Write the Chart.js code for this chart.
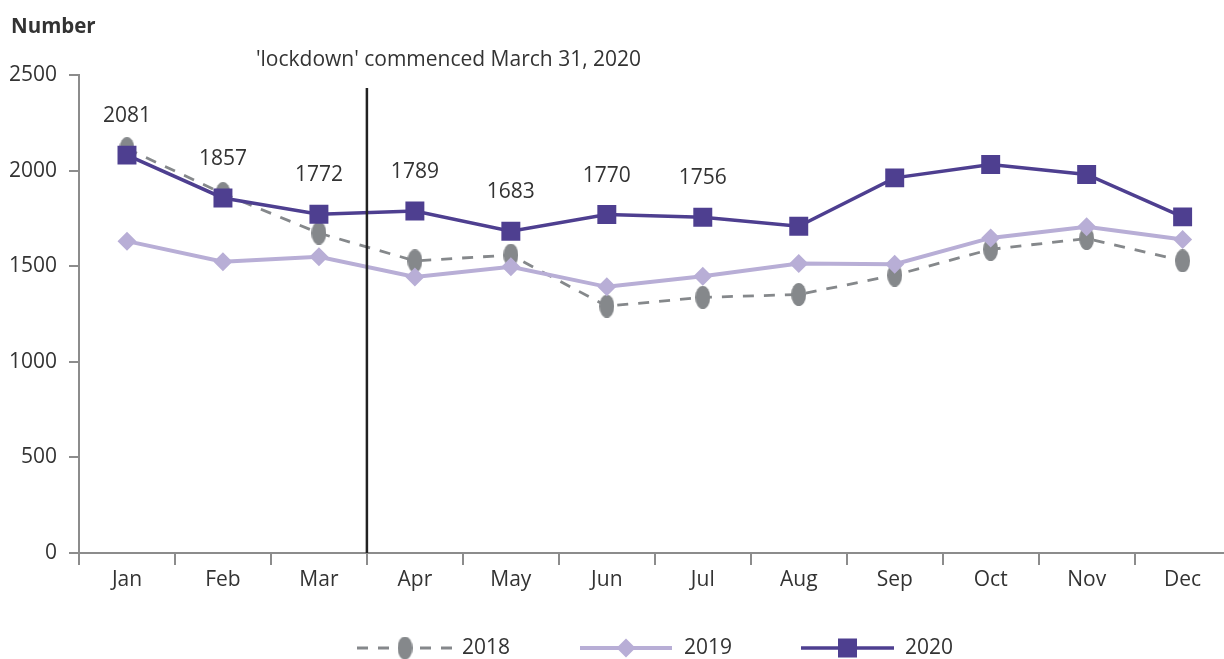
<!DOCTYPE html>
<html>
<head>
<meta charset="utf-8">
<script src="https://cdn.jsdelivr.net/npm/chart.js@4.4.1/dist/chart.umd.min.js"></script>
<style>
  html, body { margin: 0; padding: 0; background: #fff; overflow: hidden; }
  #wrap { position: relative; width: 1244px; height: 659px; }
</style>
</head>
<body>
<div id="wrap"><canvas id="c"></canvas></div>
<script>
const months = ['Jan','Feb','Mar','Apr','May','Jun','Jul','Aug','Sep','Oct','Nov','Dec'];
const values2018 = [2115, 1880, 1673, 1528, 1558, 1291, 1337, 1352, 1453, 1588, 1645, 1528];
const values2019 = [1631, 1523, 1549, 1444, 1497, 1392, 1448, 1514, 1510, 1648, 1706, 1640];
const values2020 = [2081, 1857, 1772, 1789, 1683, 1770, 1756, 1709, 1962, 2032, 1980, 1758];
const labelledMonths2020 = ['Jan','Feb','Mar','Apr','May','Jun','Jul'];
const yTicks = [0, 500, 1000, 1500, 2000, 2500];
const seriesNames = ['2018', '2019', '2020'];
const lockdownText = "'lockdown' commenced March 31, 2020";
const lockdownAfterMonth = 'Mar';
const yTitle = 'Number';

const FONT = "'Open Sans', 'Noto Sans', sans-serif";
const FS = 21;
const C2018 = '#85888b', C2019 = '#b8aed6', C2020 = '#4e3f90';
const AXIS = '#8c8c8c', TEXT = '#333333';

// ellipse marker for 2018
function ellipseMarker(w, h, color) {
  const cv = document.createElement('canvas');
  cv.width = w; cv.height = h;
  const g = cv.getContext('2d');
  g.fillStyle = color;
  g.beginPath();
  g.ellipse(w / 2, h / 2, w / 2, h / 2, 0, 0, Math.PI * 2);
  g.fill();
  return cv;
}
const ellipse = ellipseMarker(15, 23, C2018);

const overlay = {
  id: 'overlay',
  afterDatasetsDraw(chart) {
    const ctx = chart.ctx;
    const x = chart.scales.x, y = chart.scales.y;
    // lockdown line
    const i = months.indexOf(lockdownAfterMonth);
    const lx = (x.getPixelForValue(i) + x.getPixelForValue(i + 1)) / 2;
    ctx.save();
    ctx.strokeStyle = '#222222';
    ctx.lineWidth = 2.5;
    ctx.beginPath();
    ctx.moveTo(lx, 88);
    ctx.lineTo(lx, y.bottom);
    ctx.stroke();
    ctx.fillStyle = TEXT;
    ctx.font = FS + 'px ' + FONT;
    ctx.textAlign = 'left';
    ctx.textBaseline = 'middle';
    ctx.fillText(lockdownText, lx - 111, 60);
    // data labels for 2020
    const meta = chart.getDatasetMeta(2);
    ctx.textAlign = 'center';
    labelledMonths2020.forEach(m => {
      const k = months.indexOf(m);
      const p = meta.data[k];
      ctx.fillText(String(values2020[k]), p.x, p.y - 39);
    });
    // y title
    ctx.font = 'bold 20.5px ' + FONT;
    ctx.textAlign = 'left';
    ctx.fillText(yTitle, 11, 27);
    ctx.restore();
  },
  afterDraw(chart) {
    const ctx = chart.ctx;
    const ly = 648;
    const items = [
      { x0: 357, x1: 453, color: C2018, dash: [11, 10], lw: 2.8, marker: 'ellipse', tx: 462 },
      { x0: 580, x1: 672, color: C2019, dash: [], lw: 4, marker: 'diamond', tx: 684 },
      { x0: 801, x1: 894, color: C2020, dash: [], lw: 3.5, marker: 'square', tx: 905 }
    ];
    ctx.save();
    items.forEach((it, idx) => {
      ctx.strokeStyle = it.color;
      ctx.lineWidth = it.lw;
      ctx.setLineDash(it.dash);
      ctx.beginPath();
      ctx.moveTo(it.x0, ly);
      ctx.lineTo(it.x1, ly);
      ctx.stroke();
      ctx.setLineDash([]);
      const mx = (it.x0 + it.x1) / 2;
      ctx.fillStyle = it.color;
      if (it.marker === 'ellipse') {
        ctx.fillStyle = '#fff';
        ctx.fillRect(mx - 12, ly - 4, 24, 8);
        ctx.drawImage(ellipse, mx - 7.5, ly - 11.5);
      } else if (it.marker === 'diamond') {
        ctx.beginPath();
        ctx.moveTo(mx - 9.5, ly); ctx.lineTo(mx, ly - 9.5); ctx.lineTo(mx + 9.5, ly); ctx.lineTo(mx, ly + 9.5);
        ctx.closePath(); ctx.fill();
      } else {
        ctx.fillRect(mx - 9.5, ly - 9.5, 19, 19);
      }
      ctx.fillStyle = TEXT;
      ctx.font = FS + 'px ' + FONT;
      ctx.textAlign = 'left';
      ctx.textBaseline = 'middle';
      ctx.fillText(seriesNames[idx], it.tx, ly);
    });
    ctx.restore();
  }
};

new Chart(document.getElementById('c'), {
  type: 'line',
  data: {
    labels: months,
    datasets: [
      { label: seriesNames[0], data: values2018, borderColor: C2018, backgroundColor: C2018,
        borderWidth: 2.8, borderDash: [11, 10], pointStyle: ellipse, pointRadius: 10, order: 3, tension: 0 },
      { label: seriesNames[1], data: values2019, borderColor: C2019, backgroundColor: C2019,
        borderWidth: 4, pointStyle: 'rectRot', pointRadius: 9.5, pointBorderWidth: 0, order: 2, tension: 0 },
      { label: seriesNames[2], data: values2020, borderColor: C2020, backgroundColor: C2020,
        borderWidth: 3.5, pointStyle: 'rect', pointRadius: 13.4, pointBorderWidth: 0, order: 1, tension: 0 }
    ]
  },
  options: {
    responsive: true,
    maintainAspectRatio: false,
    animation: false,
    layout: { padding: { top: 75, left: 0, right: 9, bottom: 0 } },
    plugins: { legend: { display: false }, tooltip: { enabled: false } },
    scales: {
      x: {
        type: 'category',
        offset: true,
        grid: { display: true, drawOnChartArea: false, drawTicks: true, tickLength: 12, color: AXIS, lineWidth: 2, offset: true },
        border: { display: true, color: AXIS, width: 2 },
        ticks: { color: TEXT, font: { family: FONT, size: FS }, padding: 2, maxRotation: 0, autoSkip: false },
        afterFit(s) { s.height = 106; }
      },
      y: {
        min: 0, max: 2500,
        afterBuildTicks(s) { s.ticks = yTicks.map(v => ({ value: v })); },
        grid: { display: true, drawOnChartArea: false, drawTicks: true, tickLength: 10, color: AXIS, lineWidth: 2 },
        border: { display: true, color: AXIS, width: 2 },
        ticks: { color: TEXT, font: { family: FONT, size: FS }, padding: 12, callback: v => String(v) },
        afterFit(s) { s.width = 79; }
      }
    }
  },
  plugins: [overlay]
});
</script>
</body>
</html>
